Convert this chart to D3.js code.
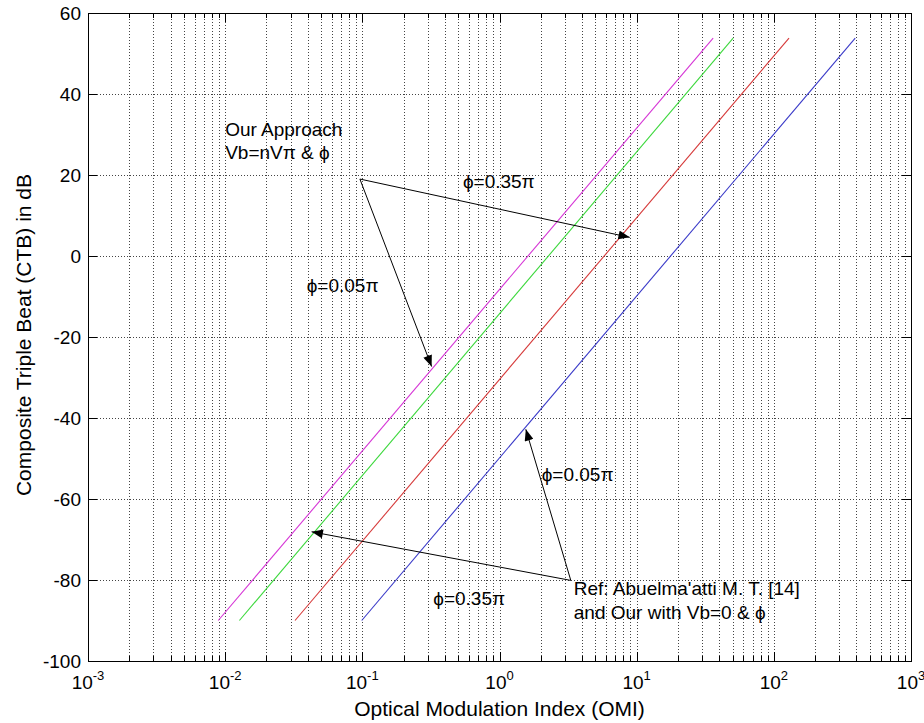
<!DOCTYPE html>
<html>
<head>
<meta charset="utf-8">
<script src="https://cdn.jsdelivr.net/npm/d3@7"></script>
<style>
  body { margin: 0; background: #fff; }
  text { font-family: "Liberation Sans", Arial, sans-serif; fill: #000; }
</style>
</head>
<body>
<div id="wrapper"></div>
<script>
// line endpoints (OMI, CTB in dB)
const omiMagenta = [0.0089, 36.1];
const omiGreen = [0.0127, 50.5];
const omiRed = [0.0323, 129];
const omiBlue = [0.099, 392];
const ctbLine = [-90, 53.8];

const seriesColors = ["#d636d6", "#3cd83c", "#d63a3a", "#3a3ac8"];

const xMajorTicks = [1e-3, 1e-2, 1e-1, 1e0, 1e1, 1e2, 1e3];
const xExponents = ["-3", "-2", "-1", "0", "1", "2", "3"];
const yTicks = [-100, -80, -60, -40, -20, 0, 20, 40, 60];

// annotation arrows: [from, to] in data units
const arrows = [
  [[0.096, 19.0], [8.9, 4.6]],
  [[0.096, 19.0], [0.32, -27.3]],
  [[3.31, -80.1], [1.556, -42.8]],
  [[3.31, -80.1], [0.0427, -68.1]]
];

const notes = [
  { x: 0.01, y: 29.6, text: "Our Approach" },
  { x: 0.01, y: 23.9, text: "Vb=nV\u03C0 & \u03D5" },
  { x: 0.541, y: 16.8, text: "\u03D5=0.35\u03C0" },
  { x: 0.0393, y: -8.8, text: "\u03D5=0.05\u03C0" },
  { x: 2.03, y: -55.6, text: "\u03D5=0.05\u03C0" },
  { x: 0.329, y: -86.2, text: "\u03D5=0.35\u03C0" },
  { x: 3.48, y: -83.7, text: "Ref: Abuelma'atti M. T. [14]" },
  { x: 3.48, y: -89.6, text: "and Our with Vb=0 & \u03D5" }
];

const series = [omiMagenta, omiGreen, omiRed, omiBlue].map(omi =>
  omi.map((v, i) => ({ x: v, y: ctbLine[i] })));

let dimension = {
  width: 924,
  height: 723,
  margin: { top: 13, left: 88, bottom: 62, right: 13 }
};
dimension.boundedWidth = dimension.width - dimension.margin.left - dimension.margin.right;
dimension.boundedHeight = dimension.height - dimension.margin.top - dimension.margin.bottom;

const wrapper = d3.select("#wrapper")
  .append("svg")
  .attr("width", dimension.width)
  .attr("height", dimension.height);

const bounded = wrapper.append("g")
  .attr("transform", `translate(${dimension.margin.left},${dimension.margin.top})`);

const xScaler = d3.scaleLog()
  .domain([1e-3, 1e3])
  .range([0, dimension.boundedWidth]);

const yScaler = d3.scaleLinear()
  .domain([-100, 60])
  .range([dimension.boundedHeight, 0]);

// all log ticks (major + minor)
const xAllTicks = xScaler.ticks();
const xMinorTicks = xAllTicks.filter(v => !xMajorTicks.some(m => Math.abs(m - v) / m < 1e-9));

// grid
const grid = bounded.append("g")
  .attr("stroke", "#444")
  .attr("stroke-width", 1)
  .attr("stroke-dasharray", "1,2");

grid.selectAll(".gx")
  .data(xAllTicks.filter(v => v > 1e-3 && v < 1e3))
  .join("line")
  .attr("x1", d => Math.round(xScaler(d)) + 0.5)
  .attr("x2", d => Math.round(xScaler(d)) + 0.5)
  .attr("y1", 0)
  .attr("y2", dimension.boundedHeight);

grid.selectAll(".gy")
  .data(yTicks.filter(v => v > -100 && v < 60))
  .join("line")
  .attr("x1", 0)
  .attr("x2", dimension.boundedWidth)
  .attr("y1", d => Math.round(yScaler(d)) + 0.5)
  .attr("y2", d => Math.round(yScaler(d)) + 0.5);

// inner ticks on all four sides
const tickGroup = bounded.append("g").attr("stroke", "#000").attr("stroke-width", 1);
const tickLen = { major: 9, minor: 5 };
[0, dimension.boundedHeight].forEach((yy, side) => {
  const dir = side === 0 ? 1 : -1;
  tickGroup.append("g").selectAll("line")
    .data(xAllTicks)
    .join("line")
    .attr("x1", d => Math.round(xScaler(d)) + 0.5)
    .attr("x2", d => Math.round(xScaler(d)) + 0.5)
    .attr("y1", yy)
    .attr("y2", d => yy + dir * (xMinorTicks.includes(d) ? tickLen.minor : tickLen.major));
});
[0, dimension.boundedWidth].forEach((xx, side) => {
  const dir = side === 0 ? 1 : -1;
  tickGroup.append("g").selectAll("line")
    .data(yTicks)
    .join("line")
    .attr("x1", xx)
    .attr("x2", xx + dir * tickLen.major)
    .attr("y1", d => Math.round(yScaler(d)) + 0.5)
    .attr("y2", d => Math.round(yScaler(d)) + 0.5);
});

// frame
bounded.append("rect")
  .attr("x", 0.5)
  .attr("y", 0.5)
  .attr("width", dimension.boundedWidth)
  .attr("height", dimension.boundedHeight)
  .attr("fill", "none")
  .attr("stroke", "#000");

// y tick labels
bounded.append("g").selectAll("text")
  .data(yTicks)
  .join("text")
  .attr("x", -7)
  .attr("y", d => yScaler(d))
  .attr("dy", "0.35em")
  .attr("text-anchor", "end")
  .attr("font-size", "19px")
  .text(d => d);

// x tick labels 10^n
const xLabels = bounded.append("g").selectAll("text")
  .data(xMajorTicks)
  .join("text")
  .attr("x", d => xScaler(d))
  .attr("y", dimension.boundedHeight + 28)
  .attr("text-anchor", "middle")
  .attr("font-size", "19px");
xLabels.append("tspan").text("10");
xLabels.append("tspan")
  .attr("dy", -9)
  .attr("font-size", "13px")
  .text((d, i) => xExponents[i]);

// axis titles
wrapper.append("text")
  .attr("x", dimension.margin.left + dimension.boundedWidth / 2)
  .attr("y", 716)
  .attr("text-anchor", "middle")
  .attr("font-size", "21px")
  .text("Optical Modulation Index (OMI)");

wrapper.append("text")
  .attr("transform", `translate(31, ${dimension.margin.top + dimension.boundedHeight / 2 - 2}) rotate(-90)`)
  .attr("text-anchor", "middle")
  .attr("font-size", "21px")
  .text("Composite Triple Beat (CTB) in dB");

// series lines
const lineGen = d3.line()
  .x(d => xScaler(d.x))
  .y(d => yScaler(d.y));

bounded.append("g").selectAll("path")
  .data(series)
  .join("path")
  .attr("d", lineGen)
  .attr("fill", "none")
  .attr("stroke", (d, i) => seriesColors[i])
  .attr("stroke-width", 1.1);

// arrows
wrapper.append("defs").append("marker")
  .attr("id", "head")
  .attr("viewBox", "0 0 10 8")
  .attr("refX", 10)
  .attr("refY", 4)
  .attr("markerWidth", 12)
  .attr("markerHeight", 9)
  .attr("markerUnits", "userSpaceOnUse")
  .attr("orient", "auto")
  .append("path")
  .attr("d", "M0,0 L10,4 L0,8 Z")
  .attr("fill", "#000");

bounded.append("g").selectAll("line")
  .data(arrows)
  .join("line")
  .attr("x1", d => xScaler(d[0][0]))
  .attr("y1", d => yScaler(d[0][1]))
  .attr("x2", d => xScaler(d[1][0]))
  .attr("y2", d => yScaler(d[1][1]))
  .attr("stroke", "#000")
  .attr("stroke-width", 1)
  .attr("marker-end", "url(#head)");

// annotation texts
bounded.append("g").selectAll("text")
  .data(notes)
  .join("text")
  .attr("x", d => xScaler(d.x))
  .attr("y", d => yScaler(d.y))
  .attr("font-size", "19px")
  .text(d => d.text);
</script>
</body>
</html>
